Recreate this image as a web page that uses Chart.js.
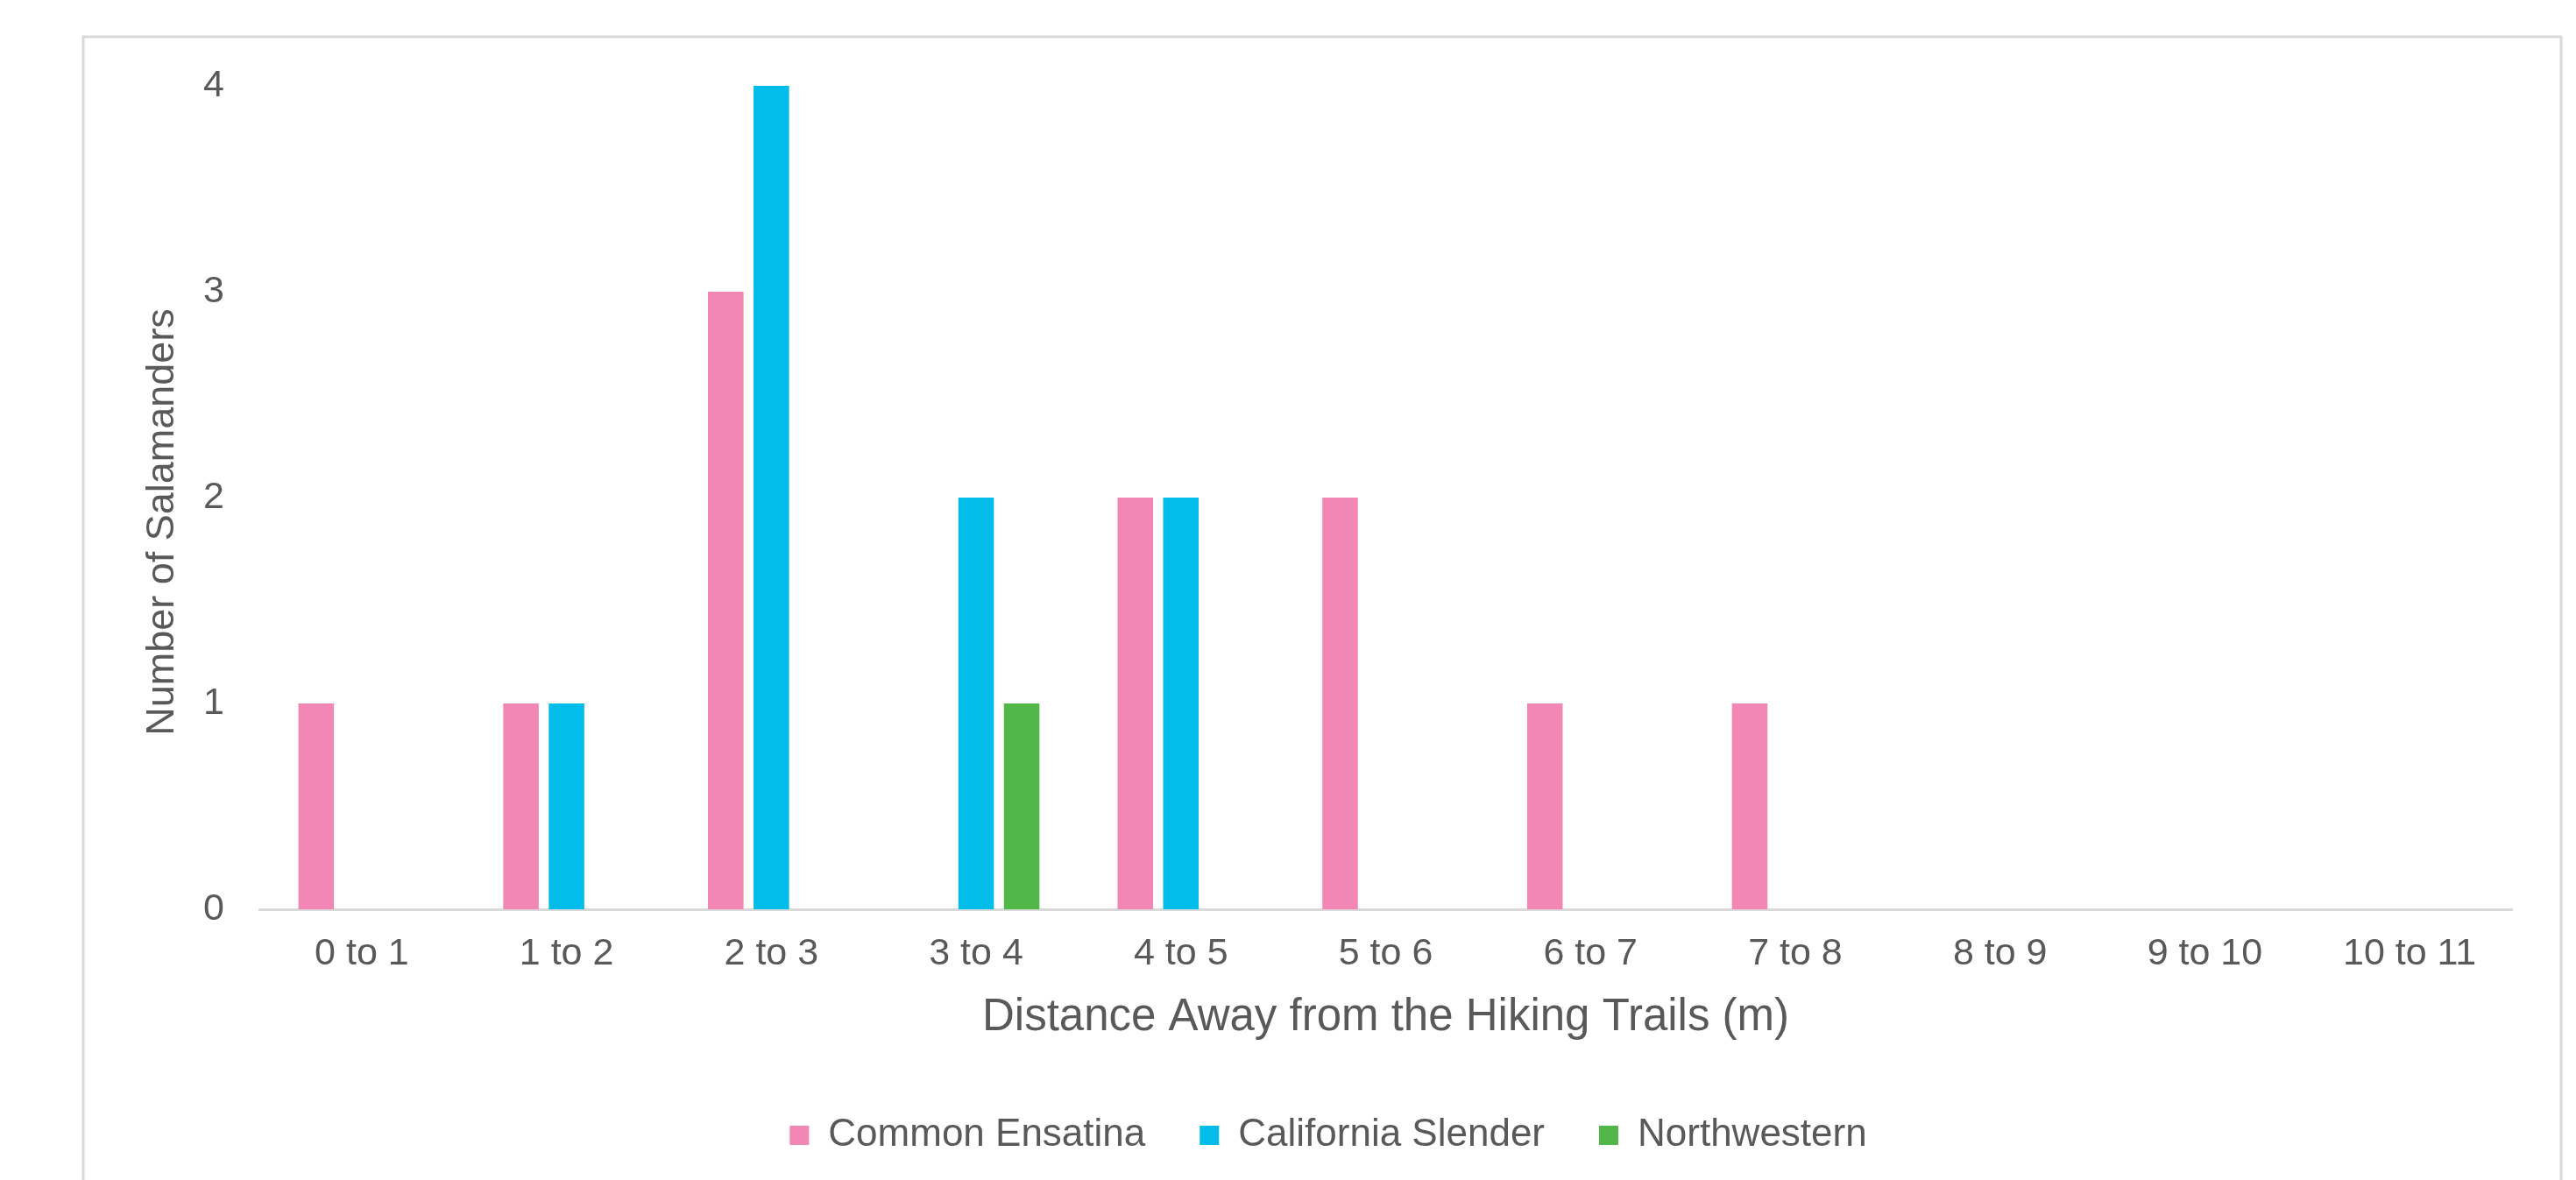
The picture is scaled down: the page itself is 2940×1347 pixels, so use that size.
<!DOCTYPE html>
<html>
<head>
<meta charset="utf-8">
<title>Salamanders by Distance from Hiking Trails</title>
<script src="https://cdn.jsdelivr.net/npm/chart.js@4/dist/chart.umd.min.js"></script>
<style>
  html, body { margin: 0; padding: 0; background: #ffffff; }
  #wrap { width: 2940px; height: 1347px; }
</style>
</head>
<body>
<div id="wrap"><canvas id="chart" width="2940" height="1347"></canvas></div>
<script>
// Distance bands (m) from the hiking trails
const distanceBands = ['0 to 1', '1 to 2', '2 to 3', '3 to 4', '4 to 5', '5 to 6',
                       '6 to 7', '7 to 8', '8 to 9', '9 to 10', '10 to 11'];

// Salamanders counted in each band, by species
const commonEnsatina    = [1, 1, 3, 0, 2, 2, 1, 1, 0, 0, 0];
const californiaSlender = [0, 1, 4, 2, 2, 0, 0, 0, 0, 0, 0];
const northwestern      = [0, 0, 0, 1, 0, 0, 0, 0, 0, 0, 0];

const yTicks = [0, 1, 2, 3, 4];
const yTitle = 'Number of Salamanders';

const TEXT = '#595959';
const LINE = '#D9D9D9';
const FONT = '"Liberation Sans", Arial, sans-serif';

// Light frame around the whole chart
const framePlugin = {
  id: 'frame',
  beforeDraw(chart) {
    const ctx = chart.ctx;
    ctx.save();
    ctx.fillStyle = '#ffffff';
    ctx.fillRect(0, 0, chart.width, chart.height);
    ctx.strokeStyle = LINE;
    ctx.lineWidth = 3;
    ctx.strokeRect(95, 42, 2828, 1400);
    ctx.restore();
  }
};

// Vertical axis title, set a little below the middle of the plot
const yTitlePlugin = {
  id: 'yTitle',
  afterDraw(chart) {
    const ctx = chart.ctx;
    const area = chart.chartArea;
    ctx.save();
    ctx.translate(186, (area.top + area.bottom) / 2 + 28);
    ctx.rotate(-Math.PI / 2);
    ctx.fillStyle = TEXT;
    ctx.font = '45px ' + FONT;
    ctx.textAlign = 'center';
    ctx.textBaseline = 'middle';
    ctx.fillText(yTitle, 0, 0);
    ctx.restore();
  }
};

new Chart(document.getElementById('chart'), {
  type: 'bar',
  data: {
    labels: distanceBands,
    datasets: [
      { label: 'Common Ensatina',    data: commonEnsatina,    backgroundColor: '#F286B5', borderWidth: 0 },
      { label: 'California Slender', data: californiaSlender, backgroundColor: '#02BDE9', borderWidth: 0 },
      { label: 'Northwestern',       data: northwestern,      backgroundColor: '#50B748', borderWidth: 0 }
    ]
  },
  plugins: [framePlugin, yTitlePlugin],
  options: {
    responsive: false,
    devicePixelRatio: 1,
    animation: false,
    layout: { padding: { left: 165, right: 73, top: 98, bottom: 19 } },
    datasets: {
      bar: { categoryPercentage: 0.6675, barPercentage: 0.78 }
    },
    scales: {
      x: {
        grid: { display: false, drawTicks: false },
        border: { display: true, color: LINE, width: 3 },
        ticks: { color: TEXT, font: { family: FONT, size: 43 }, padding: 25, maxRotation: 0, autoSkip: false },
        title: {
          display: true,
          text: 'Distance Away from the Hiking Trails (m)',
          color: TEXT,
          font: { family: FONT, size: 51 },
          padding: { top: 0, bottom: 19 }
        },
        afterFit(scale) { scale.height = 174; }
      },
      y: {
        min: 0,
        max: 4,
        grid: { display: false, drawTicks: false },
        border: { display: false },
        afterBuildTicks(scale) { scale.ticks = yTicks.map(v => ({ value: v })); },
        ticks: { color: TEXT, font: { family: FONT, size: 43 }, padding: 40 },
        title: { display: false },
        afterFit(scale) { scale.width = 131; }
      }
    },
    plugins: {
      legend: {
        position: 'bottom',
        labels: {
          color: TEXT,
          font: { family: FONT, size: 44 },
          boxWidth: 22,
          boxHeight: 22,
          padding: 62
        }
      },
      tooltip: { enabled: false }
    }
  }
});
</script>
</body>
</html>
